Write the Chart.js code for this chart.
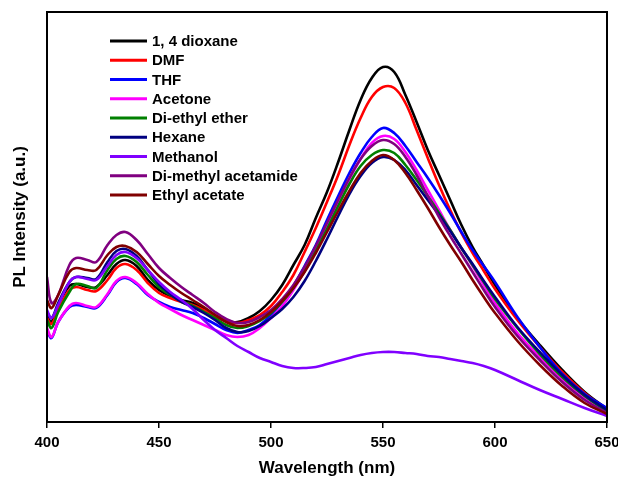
<!DOCTYPE html>
<html>
<head>
<meta charset="utf-8">
<title>PL spectra in different solvents</title>
<script src="https://cdn.jsdelivr.net/npm/chart.js"></script>
<style>
  html, body { margin: 0; padding: 0; background: #fff; }
  #wrap { width: 618px; height: 479px; }
</style>
</head>
<body>
<div id="wrap"><canvas id="plChart" width="618" height="479"></canvas></div>
<script>
// Emission wavelengths (nm)
const wavelengths = [400, 402, 405, 410, 413, 418, 422, 427, 431, 435, 440, 445, 450, 455, 460, 465, 470, 475, 480, 485, 490, 495, 500, 505, 510, 515, 520, 525, 530, 535, 540, 545, 550, 555, 560, 565, 570, 575, 580, 585, 590, 595, 600, 610, 620, 630, 640, 650];

// PL intensity (a.u.) per solvent
const dioxane = [106, 100, 117, 136, 138, 135, 135, 147, 158, 162, 156, 142, 132, 126, 122, 119, 114, 107, 101, 100, 104, 111, 122, 137, 157, 177, 204, 230, 260, 292, 322, 344, 355, 350, 327, 300, 272, 247, 222, 197, 175, 156, 137, 104, 77, 52, 30, 13];
const dmf = [104, 98, 112, 132, 135, 132, 131, 142, 154, 158, 152, 139, 129, 124, 120, 117, 112, 106, 101, 99, 102, 107, 116, 130, 147, 170, 194, 220, 247, 277, 304, 325, 335, 334, 319, 292, 264, 237, 212, 189, 169, 151, 133, 102, 75, 50, 29, 12];
const thf = [92, 84, 100, 115, 117, 115, 114, 127, 140, 144, 138, 127, 120, 115, 112, 109, 104, 98, 92, 89, 92, 97, 107, 120, 136, 156, 177, 202, 226, 249, 269, 285, 294, 289, 276, 260, 244, 227, 209, 190, 172, 156, 140, 105, 75, 48, 28, 14];
const acetone = [94, 85, 100, 116, 119, 116, 115, 128, 141, 145, 139, 128, 119, 113, 107, 102, 97, 92, 87, 85, 87, 94, 104, 116, 132, 151, 172, 196, 220, 243, 263, 279, 286, 283, 270, 252, 232, 212, 192, 174, 156, 137, 119, 89, 65, 43, 24, 10];
const diethylEther = [102, 94, 110, 130, 138, 136, 134, 152, 163, 166, 160, 147, 135, 127, 121, 116, 110, 104, 97, 94, 96, 101, 109, 120, 134, 151, 171, 193, 216, 238, 256, 267, 272, 269, 257, 242, 226, 209, 192, 174, 157, 140, 123, 94, 68, 45, 26, 11];
const hexane = [110, 104, 119, 140, 145, 144, 143, 160, 171, 173, 166, 152, 138, 128, 120, 115, 109, 102, 94, 90, 91, 96, 104, 113, 125, 141, 161, 183, 206, 228, 246, 259, 265, 262, 252, 237, 222, 207, 191, 174, 158, 141, 125, 95, 70, 47, 27, 12];
const methanol = [112, 104, 117, 140, 145, 143, 142, 156, 167, 170, 164, 152, 140, 130, 122, 113, 102, 92, 84, 76, 70, 64, 60, 56, 54, 54, 55, 58, 61, 64, 67, 69, 70, 70, 69, 68, 66, 65, 63, 61, 59, 56, 52, 42, 32, 23, 14, 6];
const dimethylAcetamide = [145, 119, 127, 157, 164, 162, 160, 177, 187, 190, 182, 168, 154, 144, 135, 127, 119, 110, 103, 99, 100, 105, 112, 123, 137, 155, 176, 199, 222, 244, 263, 276, 282, 278, 265, 247, 226, 205, 186, 168, 150, 132, 115, 86, 62, 40, 22, 9];
const ethylAcetate = [122, 114, 127, 150, 154, 152, 152, 167, 175, 176, 170, 158, 146, 137, 129, 122, 115, 107, 100, 96, 97, 102, 110, 121, 134, 150, 169, 190, 211, 231, 249, 261, 267, 262, 249, 232, 214, 195, 177, 160, 142, 125, 109, 81, 57, 36, 19, 8];

const solventNames = ['1, 4 dioxane', 'DMF', 'THF', 'Acetone', 'Di-ethyl ether', 'Hexane', 'Methanol', 'Di-methyl acetamide', 'Ethyl acetate'];
const solventSeries = [dioxane, dmf, thf, acetone, diethylEther, hexane, methanol, dimethylAcetamide, ethylAcetate];
const solventColors = ['#000000', '#ff0000', '#0000ff', '#ff00ff', '#008000', '#000080', '#8000ff', '#800080', '#800000'];

const xTicks = [400, 450, 500, 550, 600, 650];

const FONT = '"Liberation Sans", Arial, sans-serif';

// Box round the plot area
const framePlugin = {
  id: 'frame',
  afterDraw(chart) {
    const { ctx, chartArea: a } = chart;
    ctx.save();
    ctx.strokeStyle = '#000';
    ctx.lineWidth = 2;
    ctx.strokeRect(a.left, a.top, a.right - a.left, a.bottom - a.top);
    ctx.restore();
  }
};

// Legend drawn inside the plot, top-left
const insideLegend = {
  id: 'insideLegend',
  afterDatasetsDraw(chart) {
    const ctx = chart.ctx;
    const x0 = 110, x1 = 147, textX = 152;
    const y0 = 41, rowH = 19.25;
    ctx.save();
    ctx.font = 'bold 15px ' + FONT;
    ctx.textBaseline = 'middle';
    ctx.fillStyle = '#000';
    chart.data.datasets.forEach((ds, i) => {
      const y = y0 + i * rowH;
      ctx.strokeStyle = ds.borderColor;
      ctx.lineWidth = 3;
      ctx.beginPath();
      ctx.moveTo(x0, y);
      ctx.lineTo(x1, y);
      ctx.stroke();
      ctx.fillText(ds.label, textX, y + 1);
    });
    ctx.restore();
  }
};

new Chart(document.getElementById('plChart'), {
  type: 'line',
  data: {
    datasets: solventSeries.map((series, i) => ({
      label: solventNames[i],
      data: wavelengths.map((w, j) => ({ x: w, y: series[j] })),
      borderColor: solventColors[i],
      backgroundColor: solventColors[i],
      borderWidth: 2.6,
      pointRadius: 0,
      tension: 0.4,
      fill: false,
      order: solventSeries.length - i
    }))
  },
  options: {
    responsive: false,
    animation: false,
    events: [],
    layout: { padding: { top: 12, right: 11, left: 0, bottom: 0 } },
    plugins: {
      legend: { display: false },
      tooltip: { enabled: false }
    },
    scales: {
      x: {
        type: 'linear',
        min: 400,
        max: 650,
        afterBuildTicks: scale => { scale.ticks = xTicks.map(v => ({ value: v })); },
        afterFit: scale => { scale.height = 57; scale.paddingLeft = 0; scale.paddingRight = 0; },
        ticks: {
          color: '#000',
          font: { family: FONT, size: 15, weight: 'bold' },
          padding: 6,
          maxRotation: 0
        },
        grid: { drawOnChartArea: false, drawTicks: true, tickLength: 6, color: '#000', lineWidth: 1.5 },
        border: { color: '#000', width: 2 },
        title: {
          display: true,
          text: 'Wavelength (nm)',
          color: '#000',
          font: { family: FONT, size: 17, weight: 'bold' },
          padding: { top: 0, bottom: 0 }
        }
      },
      y: {
        min: 0,
        max: 410,
        afterFit: scale => { scale.width = 47; },
        ticks: { display: false },
        grid: { display: false },
        border: { color: '#000', width: 2 },
        title: {
          display: true,
          text: 'PL Intensity (a.u.)',
          color: '#000',
          font: { family: FONT, size: 17, weight: 'bold' },
          padding: { top: 10, bottom: 0 }
        }
      }
    }
  },
  plugins: [framePlugin, insideLegend]
});
</script>
</body>
</html>
